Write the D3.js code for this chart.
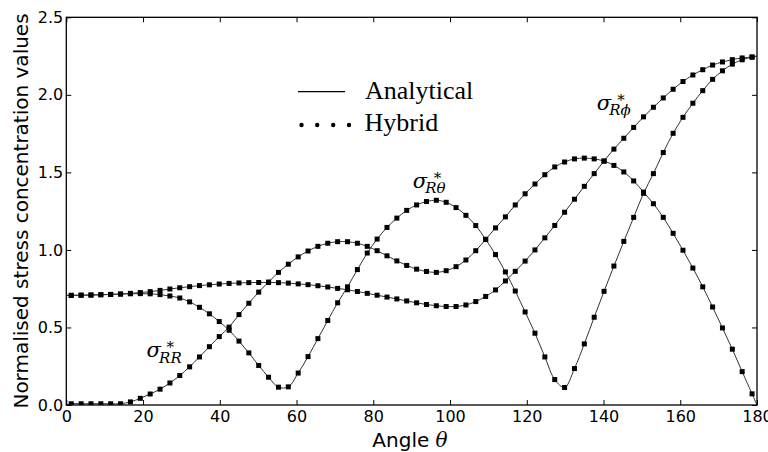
<!DOCTYPE html>
<html>
<head>
<meta charset="utf-8">
<script src="https://cdn.jsdelivr.net/npm/d3@7"></script>
<style>
  html, body { margin: 0; padding: 0; background: #fff; }
  svg { display: block; }
</style>
</head>
<body>
<svg id="chart" width="768" height="452"></svg>
<script>
// Sample angles (degrees) of the hybrid solution
const angles = [
  1.29, 3.86, 6.43, 9.00, 11.57, 14.14, 16.71, 19.29, 21.86, 24.43,
  27.00, 29.57, 32.14, 34.71, 37.29, 39.86, 42.43, 45.00, 47.57, 50.14,
  52.71, 55.29, 57.86, 60.43, 63.00, 65.57, 68.14, 70.71, 73.29, 75.86,
  78.43, 81.00, 83.57, 86.14, 88.71, 91.29, 93.86, 96.43, 99.00, 101.57,
  104.14, 106.71, 109.29, 111.86, 114.43, 117.00, 119.57, 122.14, 124.71, 127.29,
  129.86, 132.43, 135.00, 137.57, 140.14, 142.71, 145.29, 147.86, 150.43, 153.00,
  155.57, 158.14, 160.71, 163.29, 165.86, 168.43, 171.00, 173.57, 176.14, 178.71
];

// Normalised stress concentration, sigma*_RR
const sigmaRR = [
  0.008, 0.008, 0.008, 0.008, 0.008, 0.008, 0.020, 0.043, 0.071, 0.102,
  0.142, 0.190, 0.246, 0.310, 0.376, 0.441, 0.502, 0.583, 0.656, 0.728,
  0.793, 0.855, 0.908, 0.955, 0.993, 1.023, 1.043, 1.053, 1.053, 1.043,
  1.023, 0.995, 0.962, 0.929, 0.900, 0.876, 0.861, 0.855, 0.866, 0.892,
  0.935, 0.995, 1.068, 1.142, 1.213, 1.290, 1.362, 1.425, 1.485, 1.535,
  1.567, 1.587, 1.592, 1.587, 1.573, 1.545, 1.503, 1.445, 1.373, 1.298,
  1.210, 1.107, 0.998, 0.883, 0.762, 0.632, 0.497, 0.360, 0.215, 0.072
];

// sigma*_R-theta
const sigmaRTheta = [
  0.707, 0.708, 0.709, 0.711, 0.713, 0.715, 0.717, 0.718, 0.717, 0.712,
  0.703, 0.690, 0.665, 0.630, 0.588, 0.538, 0.482, 0.412, 0.336, 0.255,
  0.179, 0.115, 0.117, 0.206, 0.312, 0.428, 0.545, 0.659, 0.762, 0.873,
  0.980, 1.070, 1.145, 1.205, 1.255, 1.290, 1.312, 1.320, 1.307, 1.273,
  1.223, 1.157, 1.068, 0.970, 0.858, 0.735, 0.600, 0.463, 0.310, 0.164,
  0.113, 0.235, 0.394, 0.566, 0.733, 0.896, 1.055, 1.210, 1.365, 1.492,
  1.628, 1.752, 1.855, 1.946, 2.027, 2.100, 2.155, 2.198, 2.226, 2.243
];

// sigma*_R-phi
const sigmaRPhi = [
  0.707, 0.708, 0.709, 0.711, 0.713, 0.716, 0.720, 0.725, 0.731, 0.739,
  0.748, 0.756, 0.763, 0.770, 0.775, 0.780, 0.784, 0.787, 0.789, 0.790,
  0.790, 0.789, 0.786, 0.781, 0.776, 0.769, 0.761, 0.752, 0.743, 0.732,
  0.720, 0.708, 0.696, 0.684, 0.671, 0.659, 0.648, 0.640, 0.635, 0.635,
  0.645, 0.667, 0.700, 0.742, 0.800, 0.862, 0.928, 1.000, 1.078, 1.158,
  1.243, 1.327, 1.410, 1.492, 1.573, 1.650, 1.720, 1.790, 1.858, 1.920,
  1.980, 2.036, 2.086, 2.128, 2.162, 2.192, 2.212, 2.227, 2.238, 2.244
];

// Analytical values at the two ends (0 and 180 degrees), per series
const seriesNames = ["RR", "Rtheta", "Rphi"];
const valuesAtZero = [0.0, 0.707, 0.707];
const valuesAt180 = [0.0, 2.25, 2.25];

const xTicks = [0, 20, 40, 60, 80, 100, 120, 140, 160, 180];
const yTicks = [0.0, 0.5, 1.0, 1.5, 2.0, 2.5];

const legendLabels = ["Analytical", "Hybrid"];
const xTitle = "Angle ";
const yTitle = "Normalised stress concentration values";
const curveSubscripts = ["RR", "Rθ", "Rϕ"];

// ---- layout ----
const svg = d3.select("#chart");
const plotLeft = 66.3, plotRight = 757, plotTop = 17.3, plotBottom = 405;
const x = d3.scaleLinear().domain([0, 180]).range([plotLeft, plotRight]);
const y = d3.scaleLinear().domain([0, 2.5]).range([plotBottom, plotTop]);

svg.append("rect").attr("width", 768).attr("height", 452).attr("fill", "#fff");

svg.append("defs").append("clipPath").attr("id", "plotClip")
  .append("rect").attr("x", plotLeft).attr("y", plotTop)
  .attr("width", plotRight - plotLeft).attr("height", plotBottom - plotTop);

const series = [sigmaRR, sigmaRTheta, sigmaRPhi];

const plot = svg.append("g").attr("clip-path", "url(#plotClip)");

const line = d3.line()
  .x(d => x(d[0]))
  .y(d => y(d[1]))
  .curve(d3.curveCatmullRom.alpha(0.5));

series.forEach((vals, k) => {
  const pts = [[0, valuesAtZero[k]]]
    .concat(angles.map((a, i) => [a, vals[i]]))
    .concat([[180, valuesAt180[k]]]);
  plot.append("path")
    .attr("class", "analytical " + seriesNames[k])
    .attr("d", line(pts))
    .attr("fill", "none")
    .attr("stroke", "#333")
    .attr("stroke-width", 1);
});

const ms = 5;
series.forEach((vals, k) => {
  plot.append("g").attr("class", "hybrid " + seriesNames[k])
    .selectAll("rect")
    .data(angles.map((a, i) => [a, vals[i]]))
    .join("rect")
    .attr("x", d => x(d[0]) - ms / 2)
    .attr("y", d => y(d[1]) - ms / 2)
    .attr("width", ms)
    .attr("height", ms)
    .attr("fill", "#000");
});

// ---- axes: inward ticks on all four sides ----
const tickFont = "'DejaVu Sans', sans-serif";

const axB = svg.append("g").attr("transform", `translate(0,${plotBottom})`)
  .call(d3.axisBottom(x).tickValues(xTicks).tickFormat(d3.format("d"))
    .tickSizeInner(-5).tickSizeOuter(0).tickPadding(6));
const axT = svg.append("g").attr("transform", `translate(0,${plotTop})`)
  .call(d3.axisTop(x).tickValues(xTicks).tickFormat("")
    .tickSizeInner(-5).tickSizeOuter(0));
const axL = svg.append("g").attr("transform", `translate(${plotLeft},0)`)
  .call(d3.axisLeft(y).tickValues(yTicks).tickFormat(d3.format(".1f"))
    .tickSizeInner(-5).tickSizeOuter(0).tickPadding(3));
const axR = svg.append("g").attr("transform", `translate(${plotRight},0)`)
  .call(d3.axisRight(y).tickValues(yTicks).tickFormat("")
    .tickSizeInner(-5).tickSizeOuter(0));

[axB, axT, axL, axR].forEach(g => {
  g.select(".domain").remove();
  g.selectAll(".tick line").attr("stroke", "#000").attr("stroke-width", 1);
  g.selectAll("text").attr("font-family", tickFont).attr("font-size", 16).attr("fill", "#000");
});

svg.append("rect")
  .attr("x", plotLeft).attr("y", plotTop)
  .attr("width", plotRight - plotLeft).attr("height", plotBottom - plotTop)
  .attr("fill", "none").attr("stroke", "#000").attr("stroke-width", 1.3);

// ---- axis titles ----
const xt = svg.append("text")
  .attr("x", 410).attr("y", 446.7)
  .attr("text-anchor", "middle")
  .attr("font-family", tickFont).attr("font-size", 20).attr("fill", "#000");
xt.append("tspan").text(xTitle);
xt.append("tspan").attr("font-family", "'DejaVu Serif', serif")
  .attr("font-style", "italic").text("θ");

svg.append("text")
  .attr("transform", "translate(28.3,211) rotate(-90)")
  .attr("text-anchor", "middle")
  .attr("font-family", tickFont).attr("font-size", 20).attr("fill", "#000")
  .text(yTitle);

// ---- legend ----
const legFont = "'Liberation Serif', 'Times New Roman', serif";
svg.append("line")
  .attr("x1", 298).attr("x2", 345).attr("y1", 91.7).attr("y2", 91.7)
  .attr("stroke", "#000").attr("stroke-width", 1.2);
svg.append("text").attr("x", 365).attr("y", 99)
  .attr("font-family", legFont).attr("font-size", 26).attr("fill", "#000")
  .text(legendLabels[0]);
svg.append("g").selectAll("circle")
  .data([301.5, 317.2, 333.2, 349.0])
  .join("circle")
  .attr("cx", d => d).attr("cy", 125).attr("r", 2.2).attr("fill", "#000");
svg.append("text").attr("x", 364.5).attr("y", 130.5)
  .attr("font-family", legFont).attr("font-size", 26).attr("fill", "#000")
  .text(legendLabels[1]);

// ---- curve labels: sigma with a star superscript and a subscript, one text each ----
const mathFont = "'DejaVu Serif', serif";
function sigmaLabel(xs, ys, sub, starDx, subDy) {
  const t = svg.append("text").attr("fill", "#000").attr("font-family", mathFont);
  t.append("tspan").attr("x", xs).attr("y", ys)
    .attr("font-size", 21).attr("font-style", "italic").text("σ");
  t.append("tspan").attr("x", xs + starDx).attr("y", ys - 5)
    .attr("font-size", 15).text("*");
  t.append("tspan").attr("x", xs + 12.6).attr("y", ys + subDy)
    .attr("font-size", 15).attr("font-style", "italic").text(sub);
}
sigmaLabel(146.5, 357.3, curveSubscripts[0], 20, 5.4);
sigmaLabel(412.7, 187.5, curveSubscripts[1], 21, 5.8);
sigmaLabel(596.7, 110, curveSubscripts[2], 20.5, 5);
</script>
</body>
</html>
